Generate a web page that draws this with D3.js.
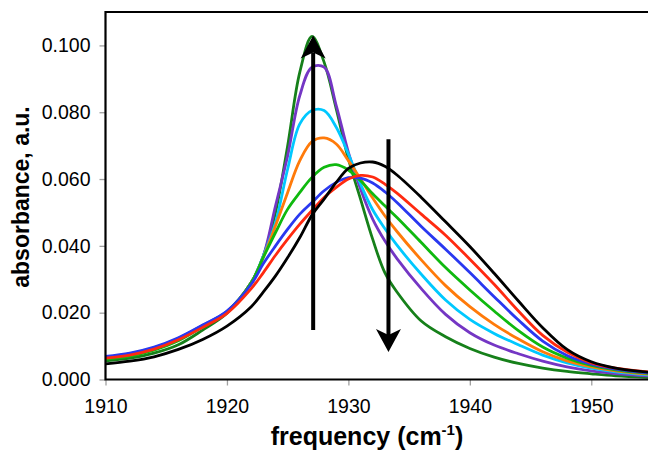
<!DOCTYPE html>
<html>
<head>
<meta charset="utf-8">
<script src="https://cdn.jsdelivr.net/npm/d3@7"></script>
<style>
  body { margin: 0; background: #fff; }
  svg { display: block; font-family: "Liberation Sans", Arial, sans-serif; }
  .tick line { stroke: #a0a0a0; stroke-width: 1.3px; }
  .tick text { font-size: 19.5px; fill: #000; }
  .domain { display: none; }
</style>
</head>
<body>
<div id="chart"></div>
<script>
// frequency grid (cm-1)
var freq = [1910, 1912, 1914, 1916, 1918, 1920, 1922, 1923, 1924, 1925, 1926, 1927, 1928, 1929, 1930,
            1931, 1932, 1933, 1934, 1936, 1938, 1940, 1942, 1944, 1946, 1948, 1950, 1952, 1955];

// absorbance for each spectrum
var darkGreen = [.0056, .0064, .0079, .0104, .0148, .0198, .029, .037, .050, .070, .092, .1027, .095, .081, .066,
                 .054, .042, .032, .0262, .0175, .0128, .0093, .0067, .0048, .0034, .0024, .0017, .0011, .0006];
var purple = [.0067, .0077, .0095, .0123, .0162, .0203, .029, .037, .052, .067, .085, .0935, .0935, .082, .068,
              .057, .048, .0415, .0362, .0272, .0195, .0140, .0103, .0077, .0055, .0038, .0026, .0018, .001];
var cyan = [.0067, .0077, .0095, .0123, .0162, .0203, .029, .037, .047, .063, .0765, .0805, .0805, .0755, .0675,
            .0585, .0508, .0452, .0402, .0315, .0238, .0180, .0138, .0104, .0073, .005, .0034, .0023, .0013];
var orange = [.0066, .0076, .0094, .0122, .0161, .0202, .029, .0366, .046, .056, .0655, .0712, .0723, .0705, .0655,
              .060, .0543, .049, .0443, .0358, .0281, .0218, .0165, .0121, .0083, .0056, .0038, .0026, .0015];
var green = [.0061, .0070, .0088, .0116, .0158, .0202, .029, .0366, .044, .051, .056, .0605, .0635, .0643, .0627,
             .0595, .0556, .052, .0485, .041, .0335, .0268, .0205, .0146, .0097, .0064, .0042, .0029, .0017];
var blue = [.0069, .0079, .0097, .0125, .0163, .0205, .0285, .0347, .040, .045, .0495, .053, .0565, .059, .0604,
            .0603, .0588, .0562, .053, .0458, .039, .032, .0248, .0178, .0115, .0072, .0046, .0031, .0019];
var red = [.0064, .0073, .0091, .0119, .0156, .0198, .0272, .032, .0372, .042, .0465, .0506, .0545, .0575, .0600,
           .0611, .0606, .0585, .0558, .0495, .0432, .036, .0285, .0205, .0132, .0082, .005, .0034, .0022];
var black = [.0047, .0055, .0068, .0090, .0120, .0160, .0218, .0262, .031, .0365, .0425, .0492, .054, .059, .0632,
             .0648, .0651, .0638, .0612, .0545, .0472, .0398, .0318, .0235, .0155, .009, .0053, .0034, .0021];

var seriesList = [darkGreen, purple, cyan, orange, green, blue, red, black];
var colors = ["#16801a", "#7436c4", "#00c8ff", "#ff7a0a", "#0fb90f", "#2a38f0", "#ff2a10", "#000000"];

var xTicks = [1910, 1920, 1930, 1940, 1950];
var yTicks = [0, 0.02, 0.04, 0.06, 0.08, 0.1];

// arrows: [frequency, start absorbance, tip absorbance]
var upArrow = [1927.1, 0.0148, 0.1030];
var downArrow = [1933.3, 0.0719, 0.0082];

var width = 648, height = 452;
var margin = { top: 12, right: -4, bottom: 72.5, left: 105.5 };
var w = width - margin.left - margin.right,
    h = height - margin.top - margin.bottom;

var svg = d3.select("#chart").append("svg")
  .attr("width", width)
  .attr("height", height);

var xScale = d3.scaleLinear().domain([1910, 1955]).range([0, w]);
var yScale = d3.scaleLinear().domain([0, 0.11]).range([h, 0]);

var g = svg.append("g")
  .attr("transform", "translate(" + margin.left + "," + margin.top + ")");

svg.append("defs").append("clipPath")
  .attr("id", "clip")
  .append("rect")
  .attr("width", w)
  .attr("height", h);

// axes
g.append("g")
  .attr("class", "x axis")
  .attr("transform", "translate(0," + h + ")")
  .call(d3.axisBottom(xScale).tickValues(xTicks).tickSize(6).tickPadding(14).tickFormat(d3.format("d")));

g.append("g")
  .attr("class", "y axis")
  .call(d3.axisLeft(yScale).tickValues(yTicks).tickSize(6).tickPadding(9).tickFormat(d3.format(".3f")));

// spectra
var line = d3.line()
  .curve(d3.curveCatmullRom.alpha(0.5))
  .x(function(d) { return xScale(d[0]); })
  .y(function(d) { return yScale(d[1]); });

var lines = g.append("g").attr("clip-path", "url(#clip)");
seriesList.forEach(function(s, i) {
  lines.append("path")
    .datum(freq.map(function(f, j) { return [f, s[j]]; }))
    .attr("d", line)
    .attr("fill", "none")
    .attr("stroke", colors[i])
    .attr("stroke-width", 2.8)
    .attr("stroke-linejoin", "round");
});

// frame (top, left, bottom)
g.append("path")
  .attr("d", "M" + w + ",0H0V" + h + "H" + w)
  .attr("fill", "none")
  .attr("stroke", "#000")
  .attr("stroke-width", 2.2);

// arrows
function drawArrow(a) {
  var x = xScale(a[0]), y0 = yScale(a[1]), y1 = yScale(a[2]);
  var dir = y1 < y0 ? 1 : -1;   // 1 = pointing up
  var len = 23, half = 12.5, notch = 6;
  g.append("line")
    .attr("x1", x).attr("x2", x)
    .attr("y1", y0).attr("y2", y1 + dir * (len - notch))
    .attr("stroke", "#000")
    .attr("stroke-width", 4);
  g.append("path")
    .attr("d", "M" + x + "," + y1 +
               "L" + (x + half) + "," + (y1 + dir * len) +
               "L" + x + "," + (y1 + dir * (len - notch)) +
               "L" + (x - half) + "," + (y1 + dir * len) + "Z")
    .attr("fill", "#000");
}
drawArrow(upArrow);
drawArrow(downArrow);

// axis titles
var xt = svg.append("text")
  .attr("x", 367)
  .attr("y", 445)
  .attr("text-anchor", "middle")
  .style("font-size", "25px")
  .style("font-weight", "bold");
xt.append("tspan").text("frequency (cm");
xt.append("tspan").attr("dy", -10).style("font-size", "15px").text("-1");
xt.append("tspan").attr("dy", 10).text(")");

svg.append("text")
  .attr("transform", "translate(29,197) rotate(-90)")
  .attr("text-anchor", "middle")
  .style("font-size", "23px")
  .style("font-weight", "bold")
  .text("absorbance, a.u.");
</script>
</body>
</html>
